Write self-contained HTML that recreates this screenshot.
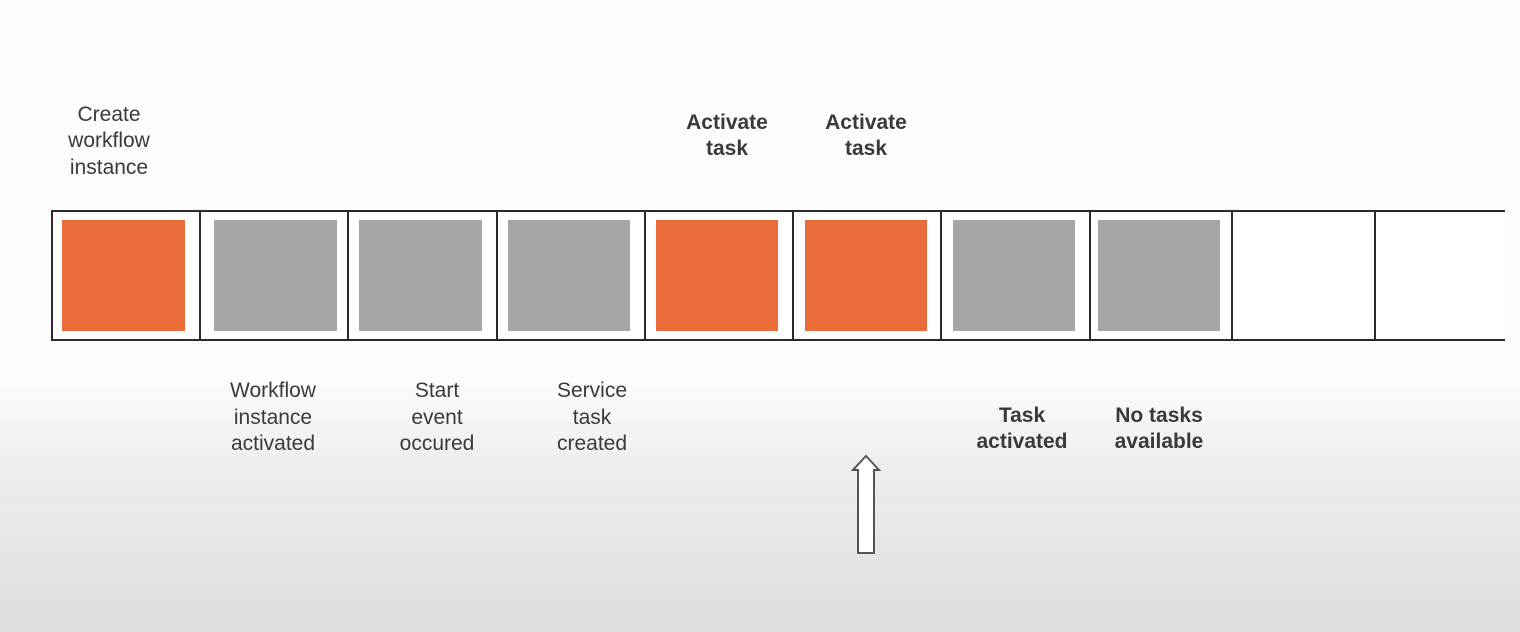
<!DOCTYPE html>
<html><head><style>
html,body{margin:0;padding:0;}
body{width:1520px;height:632px;overflow:hidden;background:linear-gradient(to bottom,#fdfdfd 0px,#fcfcfc 380px,#ededed 470px,#dedede 632px);}
svg{display:block}
text{font-family:"Liberation Sans",sans-serif;font-size:21px;fill:#3a3a3a;text-anchor:middle}
.b{font-weight:bold}
</style></head><body>
<svg width="1520" height="632" viewBox="0 0 1520 632">
<rect x="51" y="210" width="1454" height="130" fill="#fff"/>
<g fill="#ea6c3b">
<rect x="62" y="220" width="123" height="111"/>
<rect x="656" y="220" width="122" height="111"/>
<rect x="805" y="220" width="122" height="111"/>
</g>
<g fill="#a6a6a6">
<rect x="214" y="220" width="123" height="111"/>
<rect x="359" y="220" width="123" height="111"/>
<rect x="508" y="220" width="122" height="111"/>
<rect x="953" y="220" width="122" height="111"/>
<rect x="1098" y="220" width="122" height="111"/>
</g>
<g stroke="#2a2a2a" stroke-width="2">
<line x1="51" y1="211" x2="1505" y2="211"/>
<line x1="51" y1="340" x2="1505" y2="340"/>
<line x1="52" y1="210" x2="52" y2="341"/>
<line x1="200" y1="210" x2="200" y2="341"/>
<line x1="348" y1="210" x2="348" y2="341"/>
<line x1="497" y1="210" x2="497" y2="341"/>
<line x1="645" y1="210" x2="645" y2="341"/>
<line x1="793" y1="210" x2="793" y2="341"/>
<line x1="941" y1="210" x2="941" y2="341"/>
<line x1="1090" y1="210" x2="1090" y2="341"/>
<line x1="1232" y1="210" x2="1232" y2="341"/>
<line x1="1375" y1="210" x2="1375" y2="341"/>
</g>
<text x="109" y="121">Create</text>
<text x="109" y="147">workflow</text>
<text x="109" y="174">instance</text>
<text class="b" x="727" y="129">Activate</text>
<text class="b" x="727" y="155">task</text>
<text class="b" x="866" y="129">Activate</text>
<text class="b" x="866" y="155">task</text>
<text x="273" y="397">Workflow</text>
<text x="273" y="424">instance</text>
<text x="273" y="450">activated</text>
<text x="437" y="397">Start</text>
<text x="437" y="424">event</text>
<text x="437" y="450">occured</text>
<text x="592" y="397">Service</text>
<text x="592" y="424">task</text>
<text x="592" y="450">created</text>
<text class="b" x="1022" y="422">Task</text>
<text class="b" x="1022" y="448">activated</text>
<text class="b" x="1159" y="422">No tasks</text>
<text class="b" x="1159" y="448">available</text>
<path d="M866 456 L879 470 L874 470 L874 553 L858 553 L858 470 L853 470 Z" fill="#fff" stroke="#555" stroke-width="2"/>
</svg>
</body></html>
